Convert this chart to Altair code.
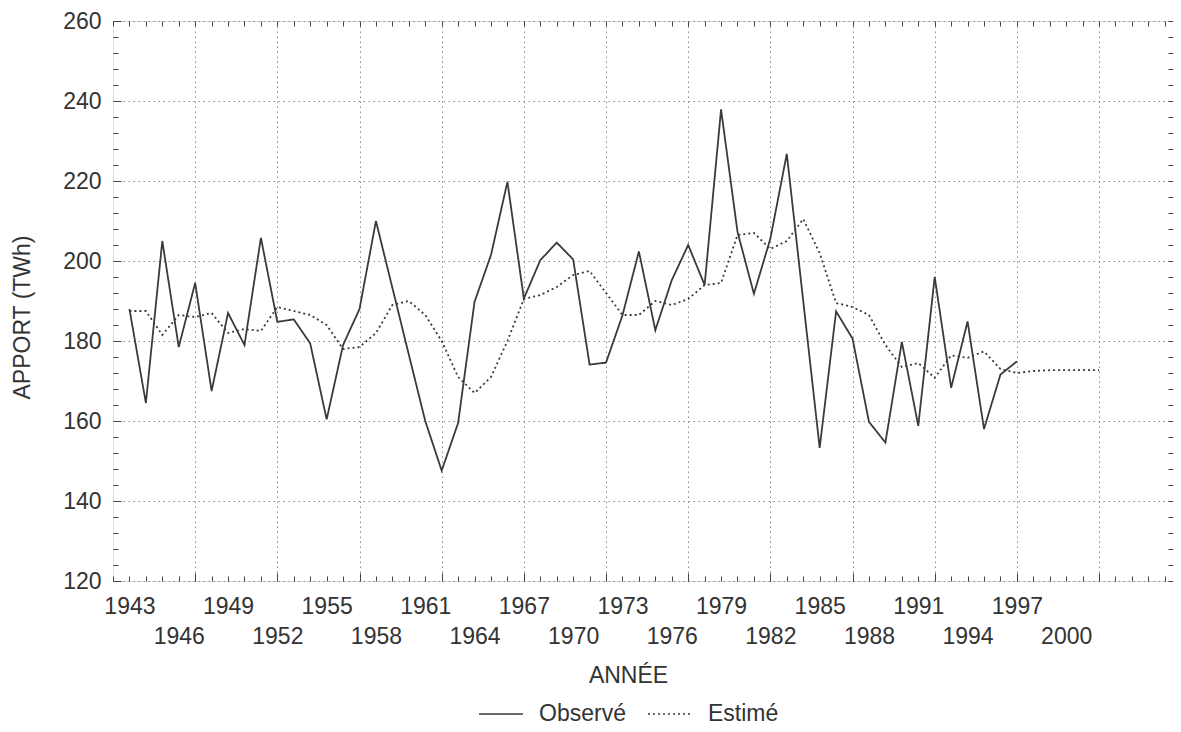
import altair as alt
import pandas as pd

# ---- data ----
years_obs = list(range(1943, 1998))
observed = [188, 164.5, 205, 178.5, 194.5, 167.5, 187, 179, 205.8, 184.8,
            185.4, 179.4, 160.4, 179, 188, 210, 193.3, 176.6, 160, 147.6,
            159.5, 189.8, 201.5, 219.8, 190.6, 200.2, 204.6, 200.4, 174.1, 174.6,
            186.4, 202.4, 182.7, 195.2, 204, 194, 237.9, 207.3, 191.8, 205.6,
            226.8, 190, 153.3, 187.4, 180.6, 159.8, 154.6, 179.8, 158.8, 196,
            168.3, 184.9, 158, 171.6, 174.9]

years_est = list(range(1943, 2003))
estimated = [187.5, 187.5, 181.5, 186.5, 186, 187, 182, 183, 182.5, 188.5,
             187.5, 186.5, 184, 178, 178.5, 182, 189, 190, 186.5, 180,
             171, 167, 171, 180, 190.5, 191.5, 193.5, 196.5, 197.5, 192,
             186.5, 186.5, 190, 189, 190.5, 194, 194.5, 206.5, 207, 203,
             205, 210.5, 202, 189.5, 188.5, 186.5, 179, 173.5, 174.5, 170.8,
             176.4, 175.8, 177.4, 173, 172, 172.5, 172.7, 172.7, 172.7, 172.7]

series_names = ["Observé", "Estimé"]
x_label_years = list(range(1943, 2001, 3))
x_grid_years = list(range(1947, 2003, 5))
x_minor_years = list(range(1942, 2007))
y_major = list(range(120, 261, 20))
y_minor = list(range(120, 261, 4))

df = pd.concat([
    pd.DataFrame({"year": years_obs, "value": observed, "series": series_names[0]}),
    pd.DataFrame({"year": years_est, "value": estimated, "series": series_names[1]}),
], ignore_index=True)

FONT = "Liberation Sans"
TXT = "#333333"
W, H = 1060, 560

xscale = alt.Scale(domain=[1942, 2006.5], nice=False, zero=False)
yscale = alt.Scale(domain=[120, 260], nice=False, zero=False)


def tick_axis(orient, values, size=5):
    return alt.Axis(orient=orient, values=values, labels=False, grid=False,
                    domain=False, ticks=True, tickSize=size, tickColor="#444444",
                    tickWidth=1, offset=-size, title=None)


base = alt.Chart(df)

lines = base.mark_line(color="#3a3a3a", strokeWidth=1.8).encode(
    x=alt.X("year:Q", scale=xscale, axis=alt.Axis(
        orient="bottom", values=x_label_years, grid=False, ticks=False, domain=False,
        labelExpr="((datum.value - 1943) / 3) % 2 == 0 ? [datum.label, ''] : ['', datum.label]",
        labelLineHeight=30, labelPadding=14, labelOverlap=False, labelBound=False,
        labelFontSize=23, labelFont=FONT, labelColor=TXT, format="d",
        title="ANNÉE", titleFont=FONT, titleFontSize=23, titleFontWeight="normal",
        titleColor=TXT, titleX=515, titleY=94, titleBaseline="middle")),
    y=alt.Y("value:Q", scale=yscale, axis=alt.Axis(
        orient="left", values=y_major, grid=True, gridDash=[1.5, 3.5],
        gridColor="#8a8a8a", gridWidth=1, ticks=False, domain=False,
        labelPadding=12, labelFontSize=23, labelFont=FONT, labelColor=TXT,
        title="APPORT (TWh)", titleFont=FONT, titleFontSize=23,
        titleFontWeight="normal", titleColor=TXT, titleX=-91, titleY=296,
        titleBaseline="middle")),
    strokeDash=alt.StrokeDash("series:N", scale=alt.Scale(
        domain=series_names, range=[[1, 0], [2, 3]]), legend=alt.Legend(
        orient="none", legendX=365, legendY=670, direction="horizontal",
        title=None, symbolType="stroke", symbolSize=1936, symbolStrokeWidth=1.6,
        symbolStrokeColor="#3a3a3a", labelFont=FONT, labelFontSize=23,
        labelColor=TXT, labelOffset=15, columnPadding=18, padding=0)),
)

grid_layer = base.mark_point(opacity=0).encode(
    x=alt.X("year:Q", scale=xscale, axis=alt.Axis(
        orient="bottom", values=x_grid_years, grid=True, gridDash=[1.5, 3.5],
        gridColor="#8a8a8a", gridWidth=1, labels=False, ticks=True,
        tickSize=8, offset=-8, tickColor="#444444",
        domain=False, title=None)),
    y=alt.Y("value:Q", scale=yscale, axis=tick_axis("left", y_minor)),
)

top_right = base.mark_point(opacity=0).encode(
    x=alt.X("year:Q", scale=xscale, axis=tick_axis("top", x_minor_years)),
    y=alt.Y("value:Q", scale=yscale, axis=tick_axis("right", y_minor)),
)

bottom_minor = base.mark_point(opacity=0).encode(
    x=alt.X("year:Q", scale=xscale, axis=tick_axis("bottom", x_minor_years)),
    y=alt.Y("value:Q", scale=yscale, axis=tick_axis("left", y_major, 8)),
)

chart = alt.layer(grid_layer, top_right, bottom_minor, lines).resolve_axis(
    x="independent", y="independent"
).properties(
    width=W, height=H,
    autosize=alt.AutoSizeParams(type="none"),
    padding={"left": 105, "top": 13, "right": 0, "bottom": 146},
).configure_view(
    stroke="#333333", strokeWidth=1.5
).configure(background="white")

chart.save("out.html", embed_options={"renderer": "svg", "actions": False})
